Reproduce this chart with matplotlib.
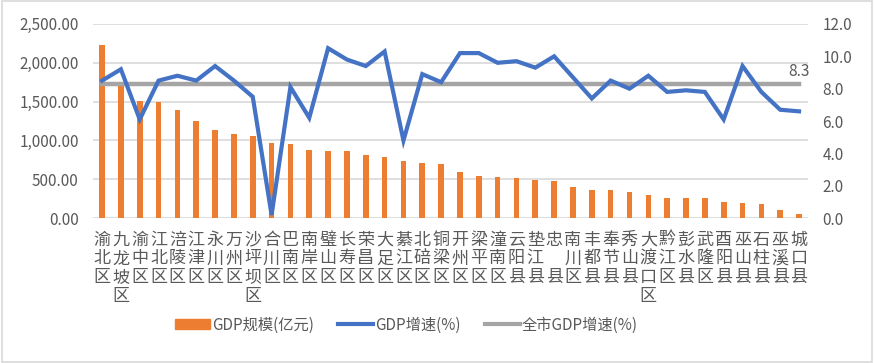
import numpy as np
import matplotlib
matplotlib.use("Agg")
import matplotlib.pyplot as plt
from matplotlib.lines import Line2D
from matplotlib.patches import Patch, Rectangle
from matplotlib.ticker import FuncFormatter

plt.rcParams['font.family'] = ['Noto Sans CJK SC', 'DejaVu Sans']

districts = ["渝北区", "九龙坡区", "渝中区", "江北区", "涪陵区", "江津区", "永川区", "万州区",
             "沙坪坝区", "合川区", "巴南区", "南岸区", "璧山区", "长寿区", "荣昌区", "大足区",
             "綦江区", "北碚区", "铜梁区", "开州区", "梁平区", "潼南区", "云阳县", "垫江县",
             "忠\u3000县", "南川区", "丰都县", "奉节县", "秀山县", "大渡口区", "黔江区", "彭水县",
             "武隆区", "酉阳县", "巫山县", "石柱县", "巫溪县", "城口县"]
gdp = [2230, 1750, 1509, 1500, 1393, 1252, 1136, 1084, 1059, 967,
       956, 879, 866, 866, 815, 789, 737, 711, 699, 596,
       544, 531, 519, 493, 480, 403, 364, 364, 338, 300,
       261, 261, 261, 210, 197, 184, 107, 55]
growth = [8.5, 9.2, 6.1, 8.5, 8.8, 8.5, 9.4, 8.5, 7.5, 0.2,
          8.1, 6.2, 10.5, 9.8, 9.4, 10.3, 4.8, 8.9, 8.4, 10.2,
          10.2, 9.6, 9.7, 9.3, 10.0, 8.7, 7.4, 8.5, 8.0, 8.8,
          7.8, 7.9, 7.8, 6.1, 9.4, 7.8, 6.7, 6.6]
city_growth = 8.3

orange = "#ED7D31"
blue = "#4472C4"
grey = "#A5A5A5"
txt = "#595959"

fig = plt.figure(figsize=(8.74, 3.63), dpi=100)
fig.patches.append(Rectangle((0.002, 0.003), 0.996, 0.994, transform=fig.transFigure,
                             fill=False, edgecolor="#D9D9D9", linewidth=1.2))
ax = fig.add_axes([0.106, 0.399, 0.819, 0.535])
x = np.arange(len(districts))

ax.bar(x, gdp, width=0.3, color=orange, zorder=2)
ax.set_ylim(0, 2500)
ax.set_yticks(np.arange(0, 2501, 500))
ax.yaxis.set_major_formatter(FuncFormatter(lambda v, p: f"{v:,.2f}"))
ax.set_xlim(-0.5, len(districts) - 0.5)
ax.set_xticks(x)
ax.set_xticklabels(["\n".join(d) for d in districts], fontsize=12.3, color=txt,
                   linespacing=1.05, va="top")
ax.tick_params(axis="x", length=0, pad=9)
ax.tick_params(axis="y", length=0, labelsize=11, labelcolor=txt, pad=10)
ax.grid(axis="y", color="#D9D9D9", linewidth=1.2, zorder=0)
for s in ax.spines.values():
    s.set_visible(False)

ax2 = ax.twinx()
ax2.plot(x, [city_growth] * len(x), color=grey, linewidth=3.2, zorder=3)
ax2.plot(x, growth, color=blue, linewidth=3.0, zorder=4, solid_joinstyle="miter")
ax2.set_ylim(0, 12)
ax2.set_yticks(np.arange(0, 12.1, 2))
ax2.yaxis.set_major_formatter(FuncFormatter(lambda v, p: f"{v:.1f}"))
ax2.tick_params(axis="y", length=0, labelsize=11, labelcolor=txt, pad=10)
for s in ax2.spines.values():
    s.set_visible(False)
ax2.annotate(f"{city_growth}", (x[-1], city_growth), xytext=(0, 3),
             textcoords="offset points", ha="center", va="bottom",
             fontsize=11, color=txt)

handles = [Patch(color=orange),
           Line2D([], [], color=blue, linewidth=3),
           Line2D([], [], color=grey, linewidth=3)]
fig.legend(handles, ["GDP规模(亿元)", "GDP增速(%)", "全市GDP增速(%)"],
           loc="center", bbox_to_anchor=(0.465, 0.105), ncol=3, frameon=False,
           fontsize=11, labelcolor=txt, handlelength=2.3, handletextpad=0.1,
           columnspacing=1.6)

fig.savefig("out.png", dpi=100)
